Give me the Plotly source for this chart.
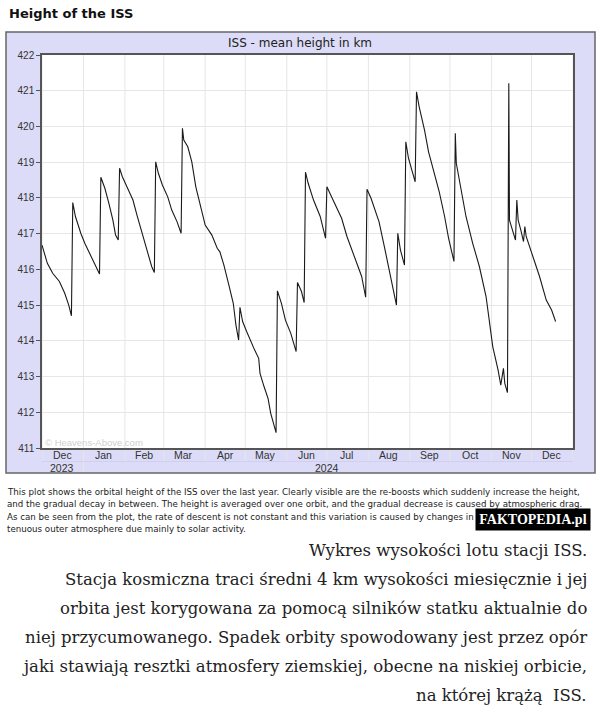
import plotly.graph_objects as go

# ---------------- data ----------------
dates = [
    "2023-12-01", "2023-12-05", "2023-12-09", "2023-12-14", "2023-12-18", "2023-12-21", "2023-12-23",
    "2023-12-24", "2023-12-26", "2023-12-30", "2024-01-02", "2024-01-05", "2024-01-09", "2024-01-13",
    "2024-01-14", "2024-01-17", "2024-01-20", "2024-01-23", "2024-01-25", "2024-01-27",
    "2024-01-28", "2024-01-30", "2024-02-03", "2024-02-07", "2024-02-10", "2024-02-14", "2024-02-18", "2024-02-21", "2024-02-23",
    "2024-02-24", "2024-02-26", "2024-02-29", "2024-03-04", "2024-03-07", "2024-03-11", "2024-03-14",
    "2024-03-15", "2024-03-16", "2024-03-19", "2024-03-22", "2024-03-25", "2024-03-29", "2024-04-01", "2024-04-06",
    "2024-04-10", "2024-04-12", "2024-04-15", "2024-04-19", "2024-04-22", "2024-04-24", "2024-04-26",
    "2024-04-27", "2024-04-29", "2024-05-02", "2024-05-05", "2024-05-08", "2024-05-11", "2024-05-12", "2024-05-15",
    "2024-05-18", "2024-05-20", "2024-05-24",
    "2024-05-25", "2024-05-28", "2024-05-31", "2024-06-04", "2024-06-08",
    "2024-06-09", "2024-06-12", "2024-06-14",
    "2024-06-15", "2024-06-17", "2024-06-21", "2024-06-26", "2024-06-30",
    "2024-07-01", "2024-07-05", "2024-07-12", "2024-07-16", "2024-07-21", "2024-07-27", "2024-07-30",
    "2024-07-31", "2024-08-03", "2024-08-09", "2024-08-13", "2024-08-16", "2024-08-19", "2024-08-22",
    "2024-08-23", "2024-08-25", "2024-08-28",
    "2024-08-29", "2024-08-31", "2024-09-05",
    "2024-09-06", "2024-09-08", "2024-09-12", "2024-09-15", "2024-09-19", "2024-09-23", "2024-09-27", "2024-09-30", "2024-10-04",
    "2024-10-05", "2024-10-05 18:00", "2024-10-08", "2024-10-13", "2024-10-18", "2024-10-23", "2024-10-28", "2024-10-31",
    "2024-11-02", "2024-11-06", "2024-11-08", "2024-11-10", "2024-11-11", "2024-11-13",
    "2024-11-14", "2024-11-14 12:00", "2024-11-17", "2024-11-19", "2024-11-20", "2024-11-21", "2024-11-23", "2024-11-25",
    "2024-11-26", "2024-11-27", "2024-12-02", "2024-12-07", "2024-12-12", "2024-12-16", "2024-12-19",
]
height_km = [
    416.68, 416.17, 415.89, 415.66, 415.33, 415.00, 414.70,
    417.87, 417.48, 417.01, 416.73, 416.49, 416.17, 415.87,
    418.58, 418.27, 417.85, 417.38, 416.96, 416.82,
    418.83, 418.60, 418.27, 417.94, 417.52, 417.01, 416.45, 416.08, 415.91,
    419.01, 418.69, 418.36, 418.03, 417.66, 417.33, 417.01,
    419.95, 419.62, 419.43, 419.01, 418.31, 417.66, 417.24, 416.96,
    416.59, 416.49, 416.12, 415.52, 415.05, 414.44, 414.02,
    414.94, 414.54, 414.26, 413.98, 413.74, 413.51, 413.09, 412.72,
    412.39, 411.97, 411.43,
    415.40, 415.05, 414.58, 414.21, 413.70,
    415.63, 415.38, 415.07,
    418.72, 418.41, 417.94, 417.48, 416.87,
    418.31, 417.99, 417.43, 416.92, 416.40, 415.80, 415.22,
    418.24, 417.99, 417.33, 416.63, 416.08, 415.52, 415.00,
    417.01, 416.54, 416.12,
    419.57, 419.11, 418.45,
    420.97, 420.55, 419.90, 419.29, 418.73, 418.17, 417.48, 416.87, 416.22,
    419.81, 418.97, 418.50, 417.48, 416.73, 416.08, 415.24, 414.40,
    413.84, 413.18, 412.76, 413.23, 412.81, 412.55,
    421.21, 417.38, 417.10, 416.82, 417.94, 417.38, 417.10, 416.78,
    417.20, 416.92, 416.36, 415.80, 415.14, 414.86, 414.54,
]
assert len(dates) == len(height_km)

month_starts = ["2023-12-01", "2024-01-01", "2024-02-01", "2024-03-01", "2024-04-01", "2024-05-01",
                "2024-06-01", "2024-07-01", "2024-08-01", "2024-09-01", "2024-10-01", "2024-11-01",
                "2024-12-01", "2025-01-01"]
month_mid = ["2023-12-16", "2024-01-16", "2024-02-15", "2024-03-16", "2024-04-16", "2024-05-16",
             "2024-06-16", "2024-07-16", "2024-08-16", "2024-09-16", "2024-10-16", "2024-11-16",
             "2024-12-16"]
month_labels = ["Dec", "Jan", "Feb", "Mar", "Apr", "May", "Jun", "Jul", "Aug", "Sep", "Oct", "Nov", "Dec"]
year_pos = ["2023-12-16", "2024-07-01"]
year_labels = ["2023", "2024"]
y_ticks = list(range(411, 423))

caption_lines = [
    "This plot shows the orbital height of the ISS over the last year. Clearly visible are the re-boosts which suddenly increase the height,",
    "and the gradual decay in between. The height is averaged over one orbit, and the gradual decrease is caused by atmospheric drag.",
    "As can be seen from the plot, the rate of descent is not constant and this variation is caused by changes in the density of the",
    "tenuous outer atmosphere due mainly to solar activity.",
]
polish_lines = [
    "Wykres wysokości lotu stacji ISS.",
    "Stacja kosmiczna traci średni 4 km wysokości miesięcznie i jej",
    "orbita jest korygowana za pomocą silników statku aktualnie do",
    "niej przycumowanego. Spadek orbity spowodowany jest przez opór",
    "jaki stawiają resztki atmosfery ziemskiej, obecne na niskiej orbicie,",
    "na której krążą  ISS.",
]

# ---------------- layout geometry (pixels) ----------------
W, H = 600, 726
PL, PR, PT, PB = 42, 573, 55, 448  # plot area
PW, PH = PR - PL, PB - PT


def xp(px):
    return (px - PL) / PW


def yp(py):
    return (PB - py) / PH


LAV = "#dcdcf8"
GRID = "#e6e6e6"

fig = go.Figure()
fig.add_trace(go.Scatter(x=dates, y=height_km, mode="lines",
                         line=dict(color="#1a1a1a", width=1.1), hoverinfo="skip"))

shapes = []
# lavender frame
shapes.append(dict(type="rect", xref="paper", yref="paper", x0=xp(6), x1=xp(595), y0=yp(473), y1=yp(32),
                   fillcolor=LAV, line=dict(color="#666666", width=1.5), layer="below"))
# white plot area
shapes.append(dict(type="rect", xref="paper", yref="paper", x0=0, x1=1, y0=0, y1=1,
                   fillcolor="white", line=dict(width=0), layer="below"))
# month gridlines (extend below axis into label band)
for m in month_starts:
    y0 = yp(472) if m == "2024-01-01" else yp(462)
    shapes.append(dict(type="line", xref="x", yref="paper", x0=m, x1=m, y0=y0, y1=1,
                       line=dict(color=GRID, width=1), layer="below"))
# faint horizontal line between months and years
shapes.append(dict(type="line", xref="paper", yref="paper", x0=0, x1=1, y0=yp(461.5), y1=yp(461.5),
                   line=dict(color="#d0d0ee", width=1), layer="below"))

annotations = []
annotations.append(dict(text="<b>Height of the ISS</b>", xref="paper", yref="paper", x=xp(7), y=yp(13),
                        xanchor="left", yanchor="middle", showarrow=False,
                        font=dict(family="DejaVu Sans", size=13, color="#111111")))
annotations.append(dict(text="ISS - mean height in km", xref="paper", yref="paper", x=xp(300), y=yp(43),
                        xanchor="center", yanchor="middle", showarrow=False,
                        font=dict(family="DejaVu Sans", size=12, color="#222222")))
annotations.append(dict(text="© Heavens-Above.com", xref="paper", yref="paper", x=xp(43), y=yp(442),
                        xanchor="left", yanchor="middle", showarrow=False,
                        font=dict(family="Liberation Sans", size=9.5, color="#cfcfcf")))
for xv, lab in zip(month_mid, month_labels):
    annotations.append(dict(text=lab, xref="x", yref="paper", x=xv, y=yp(454.5),
                            xanchor="center", yanchor="middle", showarrow=False,
                            font=dict(family="Liberation Sans", size=10.5, color="#333333")))
for xv, lab in zip(year_pos, year_labels):
    annotations.append(dict(text=lab, xref="x", yref="paper", x=xv, y=yp(468),
                            xanchor="center", yanchor="middle", showarrow=False,
                            font=dict(family="Liberation Sans", size=10.5, color="#333333")))

cap_y = [492, 504.5, 516.5, 528.5]
for t, cy in zip(caption_lines, cap_y):
    annotations.append(dict(text=t, xref="paper", yref="paper", x=xp(5), y=yp(cy),
                            xanchor="left", yanchor="middle", showarrow=False,
                            font=dict(family="DejaVu Sans", size=8.7, color="#222222")))
# badge
annotations.append(dict(text="<b>FAKTOPEDIA.pl</b>", xref="paper", yref="paper", x=xp(533), y=yp(519),
                        xanchor="center", yanchor="middle", showarrow=False, bgcolor="black",
                        borderpad=3, width=108,
                        font=dict(family="Liberation Serif", size=14, color="white")))

pol_y = [550, 579, 608, 637, 666, 695]
for t, cy in zip(polish_lines, pol_y):
    annotations.append(dict(text=t, xref="paper", yref="paper", x=xp(589), y=yp(cy),
                            xanchor="right", yanchor="middle", showarrow=False,
                            font=dict(family="DejaVu Serif", size=16.5, color="#222222")))

fig.update_layout(
    width=W, height=H,
    margin=dict(l=PL, r=W - PR, t=PT, b=H - PB, pad=0),
    paper_bgcolor="white", plot_bgcolor="white",
    showlegend=False,
    shapes=shapes, annotations=annotations,
    xaxis=dict(range=[month_starts[0], month_starts[-1]], type="date",
               showticklabels=False, ticks="", showgrid=False,
               showline=True, linecolor="#555555", linewidth=1.5, mirror=True, zeroline=False),
    yaxis=dict(range=[411, 422], tickvals=y_ticks, ticks="outside", ticklen=4, tickcolor="#555555",
               showgrid=True, gridcolor=GRID, gridwidth=1,
               showline=True, linecolor="#555555", linewidth=1.5, mirror=True, zeroline=False,
               tickfont=dict(family="Liberation Sans", size=10, color="#333333")),
)

fig.write_html("out.html")
